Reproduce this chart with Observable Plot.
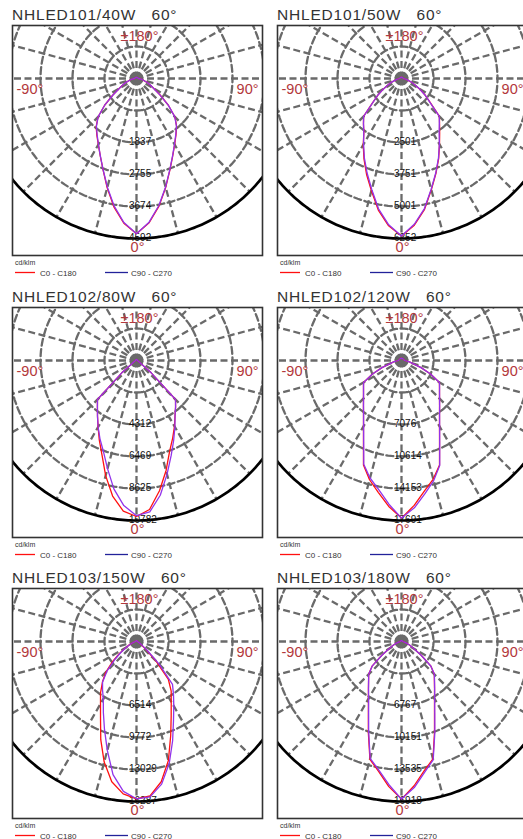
<!DOCTYPE html>
<html><head><meta charset="utf-8">
<script src="https://cdn.jsdelivr.net/npm/d3@7"></script>
<script src="https://cdn.jsdelivr.net/npm/@observablehq/plot@0.6"></script>
<style>
html,body{margin:0;padding:0;overflow:hidden;background:#fff;width:523px;height:839px;position:relative}
.title{position:absolute;font-family:"Liberation Sans",Arial,sans-serif;font-size:15.5px;line-height:16px;letter-spacing:0.8px;color:#333;white-space:pre}
.chart,.legend{position:absolute}
.chart svg{max-width:none!important;display:block}
</style></head><body>
<script>
// angles (gamma, degrees from nadir)
const gammas = [0,5,10,15,20,25,30,35,40,45,50,55,60,65,70,80,90,120,150,180];

const titles = ["NHLED101/40W   60°","NHLED101/50W   60°","NHLED102/80W   60°","NHLED102/120W   60°","NHLED103/150W   60°","NHLED103/180W   60°"];
const maxValues = [4592, 6252, 10782, 17691, 16287, 16918];
const ringLabels = [
  ["1837","2755","3674","4592"],
  ["2501","3751","5001","6252"],
  ["4312","6469","8625","10782"],
  ["7076","10614","14153","17691"],
  ["6514","9772","13029","16287"],
  ["6767","10151","13535","16918"]
];
const angleLabels = ["±180°","-90°","90°","0°"];
const legendLabels = ["C0 - C180","C90 - C270"];
const unitLabel = "cd/klm";

// intensity (cd/klm) per C-plane, at the gammas above
const p1C0   = [4454,4156,3720,3237,2801,2457,2190,1975,1791,1561,1194,827,574,436,321,161,55,40,35,30];
const p1C180 = [4454,4170,3740,3250,2801,2457,2190,1985,1800,1561,1194,827,574,436,321,161,55,40,35,30];
const p1C90  = [4454,4140,3700,3225,2790,2450,2180,1965,1785,1555,1190,820,570,430,318,160,55,40,35,30];
const p1C270 = [4454,4150,3710,3230,2795,2455,2185,1970,1790,1558,1192,825,572,433,320,160,55,40,35,30];

const p2C0   = [6158,5752,5189,4501,3939,3439,2970,2600,2313,2094,1469,1125,813,563,406,188,75,50,50,50];
const p2C180 = [6158,5780,5220,4540,3990,3470,2990,2563,2313,2094,1469,1125,813,563,406,188,75,50,50,50];
const p2C90  = [6158,5720,5160,4480,3920,3420,2960,2563,2300,2090,1460,1120,810,560,405,188,75,50,50,50];
const p2C270 = [6158,5740,5170,4490,3930,3430,2965,2570,2310,2092,1465,1122,812,562,406,188,75,50,50,50];

const p3C0   = [10512,10081,8917,7688,6523,5768,5121,4528,4097,3720,1294,377,216,162,129,86,65,65,65,65];
const p3C180 = [10512,10189,9273,8033,6793,5930,5175,4582,4097,3720,1294,377,216,162,129,86,65,65,65,65];
const p3C90  = [10512,10243,9219,7947,6825,5930,5175,4528,4097,3720,1294,377,216,162,129,86,65,65,65,65];
const p3C270 = [10458,9812,8787,7547,6523,5822,5175,4582,4097,3720,1294,377,216,162,129,86,65,65,65,65];

const p4C0   = [17426,16081,14648,13569,12295,9951,8403,7324,6546,5944,5484,5130,4847,3538,2300,885,354,250,250,250];
const p4C180 = [17426,16200,14800,13650,12295,9951,8403,7324,6546,5944,5484,5130,4847,3538,2300,885,354,250,250,250];
const p4C90  = [17426,16350,14950,13750,12350,9990,8430,7340,6560,5950,5490,5135,4850,3540,2300,885,354,250,250,250];
const p4C270 = [17426,15950,14500,13450,12200,9900,8380,7310,6540,5940,5480,5125,4845,3535,2300,885,354,250,250,250];

const p5C0   = [16010,15766,14495,12541,10179,8355,7069,6156,5049,2769,1303,651,407,293,195,130,98,80,80,80];
const p5C180 = [16010,15570,14495,12704,10635,8665,7329,6385,5391,4430,3160,2117,1303,814,489,195,98,80,80,80];
const p5C90  = [16010,15880,14740,12867,10749,8909,7590,6564,5700,3257,1466,733,456,293,195,130,98,80,80,80];
const p5C270 = [16010,15310,13763,11482,9528,7981,6759,6026,5375,4235,2932,1954,1222,733,456,195,98,80,80,80];

const p6C0   = [16664,15311,13873,12858,10202,8256,6979,6090,5414,4906,4060,2538,1523,1015,677,254,135,100,100,100];
const p6C180 = [16664,15400,13950,12900,10250,8290,6990,6100,5420,4910,4060,2538,1523,1015,677,254,135,100,100,100];
const p6C90  = [16664,15500,14050,12950,10300,8320,7010,6110,5430,4915,4065,2540,1525,1015,677,254,135,100,100,100];
const p6C270 = [16664,15200,13800,12800,10150,8230,6960,6080,5410,4900,4055,2535,1520,1015,677,254,135,100,100,100];

const planes = [
  [p1C0,p1C180,p1C90,p1C270],[p2C0,p2C180,p2C90,p2C270],[p3C0,p3C180,p3C90,p3C270],
  [p4C0,p4C180,p4C90,p4C270],[p5C0,p5C180,p5C90,p5C270],[p6C0,p6C180,p6C90,p6C270]
];

const colX = [12, 277];
const rowTop = [25, 307, 588];
const FW = 250, FH = 230;
const red = "#ff1010", purple = "#9233ea", legendBlue = "#22229a", labelRed = "#b3383c", grid = "#6a6a6a";
const font = "Liberation Sans, Arial, sans-serif";

const rad = d => d * Math.PI / 180;
const toXY = (deg, v) => ({x: v * Math.sin(rad(deg)), y: -v * Math.cos(rad(deg))});

function curve(right, left) {
  const pts = [];
  for (let i = gammas.length - 1; i >= 0; i--) pts.push(toXY(-gammas[i], left[i]));
  for (let i = 1; i < gammas.length; i++) pts.push(toXY(gammas[i], right[i]));
  return pts;
}

function chart(i) {
  const M = maxValues[i], k = M / 160;
  const [c0, c180, c90, c270] = planes[i];
  const rings = [];
  [1,2,3,4].forEach(n => d3.range(0, 361, 2).forEach(a => rings.push({...toXY(a, M * n / 5), ring: n})));
  const outer = d3.range(0, 361, 1).map(a => toXY(a, M));
  const spokes = d3.range(0, 360, 15).map(a => { const p = toXY(a, M); return {x2: p.x, y2: p.y}; });
  const lbl = ringLabels[i].map((t, j) => ({t, x: 0, y: -M * (j + 2) / 5}));
  return Plot.plot({
    width: FW, height: FH, margin: 0,
    x: {domain: [-124 * k, 126 * k], axis: null},
    y: {domain: [-177 * k, 53 * k], axis: null},
    style: {background: "#fff", overflow: "visible"},
    marks: [
      Plot.link(spokes, {x1: () => 0, y1: () => 0, x2: "x2", y2: "y2", stroke: grid, strokeWidth: 2.3, strokeDasharray: "7,3.5", clip: true}),
      Plot.line(rings, {x: "x", y: "y", z: "ring", stroke: grid, strokeWidth: 2.3, strokeDasharray: "7,3.5", clip: true}),
      Plot.line(outer, {x: "x", y: "y", stroke: "#000", strokeWidth: 2.7, clip: true}),
      Plot.dot([{x: 0, y: 0}], {x: "x", y: "y", r: 6.5, fill: grid}),
      Plot.text(lbl, {x: "x", y: "y", text: "t", textAnchor: "start", dx: -7.5, dy: -1, fontSize: 10, fill: "#111", fontFamily: font}),
      Plot.line(curve(c0, c180), {x: "x", y: "y", stroke: red, strokeWidth: 1.3, clip: true}),
      Plot.line(curve(c90, c270), {x: "x", y: "y", stroke: purple, strokeWidth: 1.3, clip: true}),
      Plot.text([angleLabels[0]], {x: () => 0, y: () => 0.235 * M, text: d => d, dx: 3, lineAnchor: "bottom", fontSize: 14.5, fill: labelRed, fontFamily: font}),
      Plot.text([angleLabels[1]], {frameAnchor: "left", y: () => 0, text: d => d, dx: 4, dy: 15, lineAnchor: "bottom", textAnchor: "start", fontSize: 14.5, fill: labelRed, fontFamily: font}),
      Plot.text([angleLabels[2]], {frameAnchor: "right", y: () => 0, text: d => d, dx: -4, dy: 15, lineAnchor: "bottom", textAnchor: "end", fontSize: 14.5, fill: labelRed, fontFamily: font}),
      Plot.text([angleLabels[3]], {frameAnchor: "bottom", x: () => 0, text: d => d, dx: 1, dy: -4, lineAnchor: "bottom", fontSize: 14.5, fill: labelRed, fontFamily: font}),
      Plot.frame({stroke: "#333", strokeWidth: 1.6})
    ]
  });
}

function legend() {
  const svg = d3.create("svg").attr("width", 200).attr("height", 26);
  svg.append("text").attr("x", 3).attr("y", 10).attr("font-family", font).attr("font-size", 7).attr("fill", "#333").text(unitLabel);
  [[red, 3, 23, 28], [legendBlue, 93, 116, 119]].forEach(([col, x1, x2, tx], j) => {
    svg.append("line").attr("x1", x1).attr("x2", x2).attr("y1", 17.5).attr("y2", 17.5).attr("stroke", col).attr("stroke-width", 1.3);
    svg.append("text").attr("x", tx).attr("y", 20.5).attr("font-family", font).attr("font-size", 8).attr("fill", "#333").text(legendLabels[j]);
  });
  return svg.node();
}

for (let i = 0; i < 6; i++) {
  const x = colX[i % 2], top = rowTop[Math.floor(i / 2)];
  const t = document.createElement("div");
  t.className = "title"; t.textContent = titles[i];
  t.style.left = x + "px"; t.style.top = (top - 18) + "px";
  document.body.appendChild(t);
  const c = document.createElement("div");
  c.className = "chart"; c.style.left = x + "px"; c.style.top = top + "px";
  c.appendChild(chart(i));
  document.body.appendChild(c);
  const l = document.createElement("div");
  l.className = "legend"; l.style.left = x + "px"; l.style.top = (top + FH) + "px";
  l.appendChild(legend());
  document.body.appendChild(l);
}
</script>
</body></html>
